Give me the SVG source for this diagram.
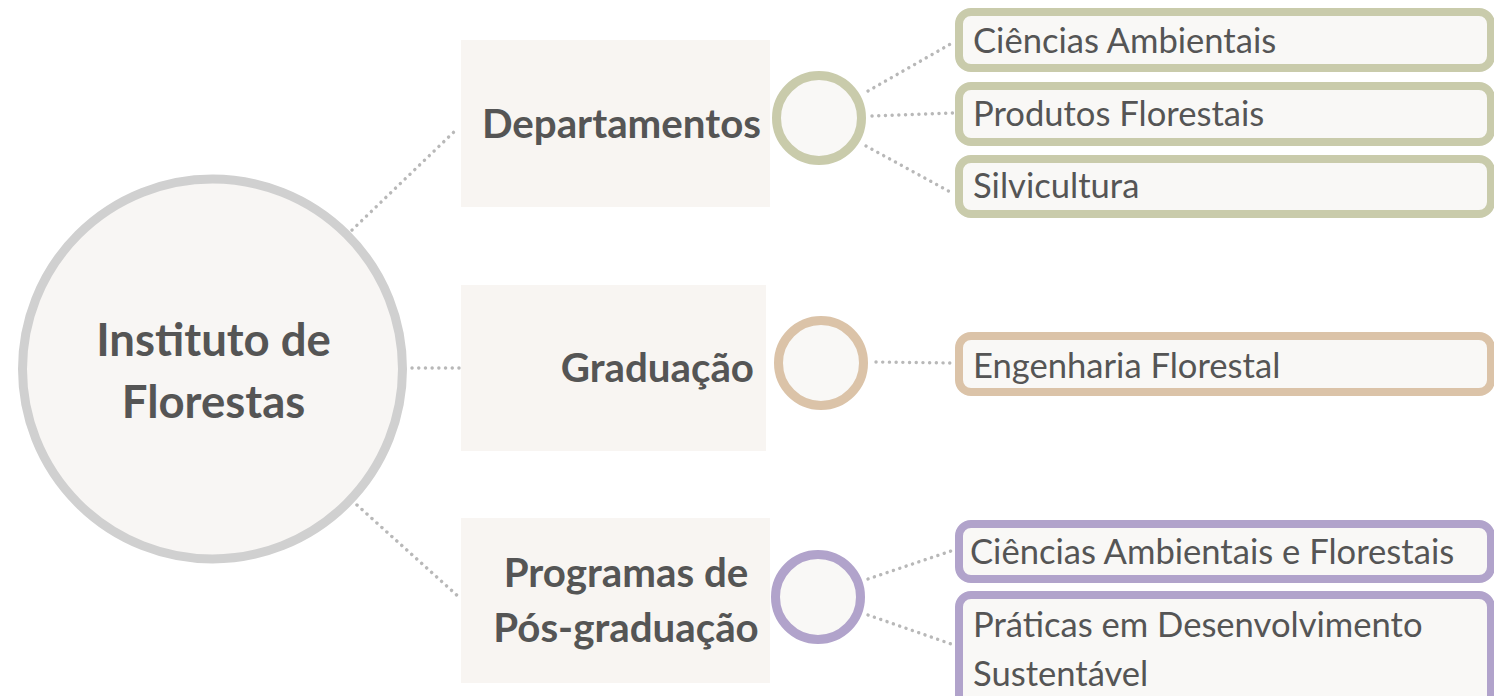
<svg xmlns="http://www.w3.org/2000/svg" width="1494" height="696" viewBox="0 0 1494 696">
<style>
.conn{fill:none;stroke:#b8b8b8;stroke-width:3.4;stroke-linecap:round;stroke-dasharray:0.1 6.6}
.panel{fill:#f8f5f2}
.hub{fill:#f9f8f6;stroke-width:9}
.box{fill:#f9f8f6;stroke-width:8}
.g{stroke:#c9cbab}
.t{stroke:#dbc3a8}
.p{stroke:#b1a3cb}
.big{font-family:Lato,"Liberation Sans",sans-serif;font-weight:bold;fill:#555555}
.lbl{font-family:Lato,"Liberation Sans",sans-serif;font-size:34.6px;fill:#555555}
</style>
<rect width="1494" height="696" fill="#ffffff"/>
<g id="connectors">
<line class="conn" x1="352" y1="230" x2="458" y2="128"/>
<line class="conn" x1="412" y1="368" x2="460" y2="368"/>
<line class="conn" x1="357" y1="505" x2="460" y2="598"/>
<line class="conn" x1="868" y1="91" x2="954" y2="42"/>
<line class="conn" x1="872" y1="116" x2="954" y2="113"/>
<line class="conn" x1="866" y1="146" x2="954" y2="194"/>
<line class="conn" x1="876" y1="362" x2="954" y2="363"/>
<line class="conn" x1="868" y1="579" x2="954" y2="550"/>
<line class="conn" x1="868" y1="615" x2="954" y2="645"/>
</g>
<g id="root">
<circle cx="212.5" cy="369" r="190" fill="#f8f6f4" stroke="#d0d0d0" stroke-width="9"/>
<text class="big" font-size="45.5" text-anchor="middle" x="213.5" y="356">Instituto de</text>
<text class="big" font-size="45.5" text-anchor="middle" x="213.5" y="418">Florestas</text>
</g>
<g id="departamentos">
<rect class="panel" x="461" y="40" width="309" height="167"/>
<text class="big" font-size="40.3" text-anchor="end" x="761" y="138">Departamentos</text>
<circle class="hub g" cx="819" cy="118" r="42.5"/>
</g>
<g id="graduacao">
<rect class="panel" x="461" y="285" width="305" height="166"/>
<text class="big" font-size="40.3" text-anchor="end" x="754" y="382">Graduação</text>
<circle class="hub t" cx="821" cy="363" r="42.5"/>
</g>
<g id="posgraduacao">
<rect class="panel" x="461" y="518" width="309" height="165"/>
<text class="big" font-size="40.3" text-anchor="middle" x="626" y="587">Programas de</text>
<text class="big" font-size="40.3" text-anchor="middle" x="626" y="642">Pós-graduação</text>
<circle class="hub p" cx="818" cy="597" r="42.5"/>
</g>
<g id="ciencias-ambientais">
<rect class="box g" x="959" y="12" width="532" height="56" rx="12"/>
<text class="lbl" x="973" y="53">Ciências Ambientais</text>
</g>
<g id="produtos-florestais">
<rect class="box g" x="959" y="86" width="532" height="56" rx="12"/>
<text class="lbl" x="973" y="126">Produtos Florestais</text>
</g>
<g id="silvicultura">
<rect class="box g" x="959" y="159" width="532" height="55" rx="12"/>
<text class="lbl" x="973" y="198">Silvicultura</text>
</g>
<g id="engenharia-florestal">
<rect class="box t" x="959" y="336" width="532" height="56" rx="12"/>
<text class="lbl" x="973" y="378">Engenharia Florestal</text>
</g>
<g id="ciencias-ambientais-florestais">
<rect class="box p" x="959" y="524" width="532" height="55" rx="12"/>
<text class="lbl" x="970" y="564">Ciências Ambientais e Florestais</text>
</g>
<g id="praticas">
<rect class="box p" x="959" y="595" width="532" height="120" rx="12"/>
<text class="lbl" x="973" y="637">Práticas em Desenvolvimento</text>
<text class="lbl" x="973" y="686">Sustentável</text>
</g>
</svg>
